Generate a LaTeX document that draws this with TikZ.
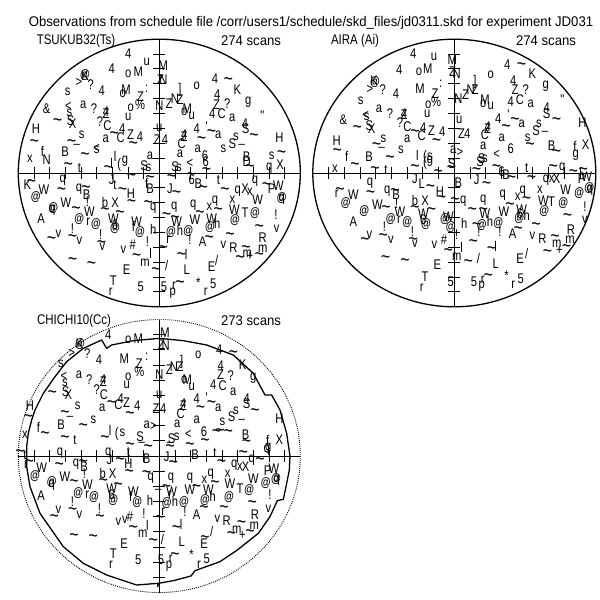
\documentclass[tikz,border=0pt]{standalone}
\usepackage{fontspec}
\newfontfamily\hf[FakeStretch=0.8]{Liberation Sans}
\newfontfamily\hft[FakeStretch=0.94]{Liberation Sans}
\newfontfamily\hfc[FakeStretch=0.82]{Liberation Sans}
\def\tld{{\fontsize{20}{20}\selectfont\textasciitilde}}
\def\sla{/}
\def\atc{@}
\tikzset{
  gl/.style={font=\hf\fontsize{14}{14}\selectfont,inner sep=0pt,text=black},
  lbl/.style={font=\hft\fontsize{14}{14}\selectfont,inner sep=0pt,text=black},
  capl/.style={font=\hfc\fontsize{14}{14}\selectfont,inner sep=0pt,text=black},
  rim/.style={line width=1.3pt,black},
  axisline/.style={line width=0.9pt,black},
  mask/.style={line width=1.3pt,black,line join=round},
  dotring/.style={line width=0.9pt,black,dash pattern=on 0.9pt off 1.1pt}
}
\newcommand\tickset[4]{%
  \draw[axisline] (#1-#3,#2) -- (#1+#3,#2);
  \draw[axisline] (#1,#2-#4) -- (#1,#2+#4);
  \foreach \i in {-8,...,8}{
    \ifnum\i=0\else
    \draw[axisline] ({#1+\i*#3/9},#2-6) -- ({#1+\i*#3/9},#2+6);
    \draw[axisline] (#1-6,{#2+\i*#4/9}) -- (#1+6,{#2+\i*#4/9});
    \fi
  }%
}
\newcommand\glyphs[3]{%
  \begin{scope}[shift={(#1,#2)},x=0.33333pt,y=-0.33333pt]
  \foreach \a/\b/\c in {#3}{\node[gl] at (\a,\b) {\ifx\c\atc{\fontsize{12.5}{12.5}\selectfont\textbf{@}}\else\c\fi};}
  \end{scope}%
}
\begin{document}
\begin{tikzpicture}[x=1pt,y=-1pt]
\useasboundingbox (0,0) rectangle (600,600);
\fill[white] (0,0) rectangle (600,600);
\node[lbl] (title) at (311,23) {Observations from schedule file /corr/users1/schedule/skd\_files/jd0311.skd for experiment JD031};
\node[capl] (st1) at (76,41) {TSUKUB32(Ts)};
\node[lbl] (sc1) at (251,41) {274 scans};
\node[capl] (st2) at (355,41) {AIRA (Ai)};
\node[lbl] (sc2) at (546,41) {274 scans};
\node[capl] (st3) at (74,321) {CHICHI10(Cc)};
\node[lbl] (sc3) at (251,321) {273 scans};
% plot 1
\draw[rim] (159.3,173) ellipse [x radius=141, y radius=133.8];
\tickset{159.3}{173}{141}{133.8}
\glyphs{0}{0}{385/160/4,335/205/4,440/187/u,385/220/o,415/215/M,490/197/M,490/240/N,482/240/Z,685/245/\tld,645/237/4,712/268/K,255/228/K,255/225/@,237/248/>,272/255/?,305/272/4,203/275/s,378/268/M,368/280/o,422/290/Z,440/265/:,420/315/\%,540/270/],590/258/o,478/318/N,507/310/Z,525/295/N,540/298/Z,562/325/M,575/348/u,553/335/o,652/283/4,650/315/Z,682/310/?,637/340/4,665/340/C,697/352/a,745/308/g,787/348/",140/327/\&,205/318/<,208/337/s,250/313/a,282/327/?,318/335/4,318/340/Z,392/322/o,385/350/u,173/367/\tld,212/362/S,218/372/X,300/365/?,322/378/C,367/385/4,392/405/Z,420/410/4,317/417/a,343/408/\tld,362/412/C,478/385/u,472/420/Z,495/420/4,108/385/H,245/405/s,103/430/\tld,127/453/f,195/455/B,215/430/\tld,230/432/\_,290/450/s,290/445/<,400/438/\tld,553/405/4,552/410/Z,545/430/C,593/445/a,605/422/\tld,590/385/4,620/380/',635/400/\tld,655/405/a,670/447/s,697/430/S,708/410/s,725/432/\_,762/412/\tld,735/370/4,737/385/S,838/412/H,255/470/\tld,345/470/l,540/462/a,450/467/a,615/468/6,740/470/B,815/468/s,845/465/\tld,90/475/x,140/478/N}
\glyphs{0}{160}{205/20/\tld,238/25/t,188/60/q,335/10/l,358/15/(,375/5/g,325/30/\tld,432/18/S,445/22/s,395/52/\tld,440/70/f,450/85/B,510/85/J,530/105/\tld,450/60/\tld,515/55/\tld,525/20/S,537/22/s,570/10/<,617/5/6,620/35/\tld,575/50/\tld,595/70/B,575/60/6,610/90/\tld,655/60/t,675/95/\tld,713/95/q,735/85/X,750/95/x,765/65/q,750/25/\tld,740/5/D,808/25/q,800/80/\tld,815/85/P,835/78/W,840/15/X,845/115/@,845/118/q,773/120/W,82/75/K,95/72/\tld,132/90/W,107/112/@,185/95/\tld,237/88/q,260/105/B,258/90/\tld,262/125/!,315/128/b,345/128/X,335/60/J,345/75/t,368/95/\tld,393/102/H,395/132/\tld,445/135/\tld,460/145/q,523/143/q,580/135/q,628/140/x,645/125/q,697/118/x,703/150/W,735/158/T,765/160/@,705/180/@,198/128/W,160/145/@,157/150/q,228/152/\tld,268/155/W,238/178/@,123/175/A,265/185/r,288/192/@,315/155/\tld,340/175/W,360/165/\tld,345/195/6,345/205/@,410/185/W,400/200/f,420/215/@,460/208/h,500/170/\tld,525/180/\tld,530/185/W,513/215/@,540/210/h,565/212/@,585/178/W,600/165/\tld,635/175/W,630/200/@,652/190/h,655/155/\tld,217/205/!,155/243/\tld,175/222/v,218/235/\tld,238/242/v,302/225/!,305/255/\tld,307/260/v,370/268/v,398/255/\#,442/245/!,505/240/r,570/240/!,608/245/A,628/240/\tld,670/255/v,690/230/\tld,700/262/R,738/270/\tld,788/233/R,788/265/m,778/205/\tld,828/165/!,830/205/v,742/280/m,720/300/\tld,750/290/+,778/290/\tld,410/293/\tld,435/308/m,452/280/l,490/270/\tld,545/290/\tld,558/282/l,500/315/\sla,468/335/\tld,560/330/L,650/300/\sla,635/320/E,380/330/E,218/305/\tld,275/317/\tld,340/362/T,332/395/r,422/380/5,492/380/5,540/375/\tld,522/378/r,518/400/p,595/368/*,617/395/r,640/372/5}
% plot 2
\draw[rim] (454.3,173) ellipse [x radius=141.5, y radius=133.8];
\tickset{454.3}{173}{141.5}{133.8}
\glyphs{300}{0}{340/160/4,402/172/u,298/210/4,357/215/o,383/205/M,457/180/M,470/220/N,458/215/Z,622/195/4,665/200/\tld,697/222/K,572/225/o,525/245/],422/250/:,222/243/K,225/245/@,210/268/>,248/270/?,288/282/4,182/303/s,360/265/M,405/280/Z,408/305/\%,385/315/o,382/342/u,475/295/N,497/285/Z,512/270/N,525/270/Z,555/300/M,572/318/u,550/310/o,640/242/4,645/270/Z,677/268/?,737/258/g,632/305/4,660/298/C,692/310/a,787/298/",130/360/\&,197/345/<,200/350/s,237/325/a,270/342/?,312/340/4,312/345/Z,172/390/\tld,208/378/S,215/385/X,300/367/?,322/380/C,370/382/4,395/393/Z,427/395/4,322/415/a,345/402/\tld,365/408/C,478/360/u,485/400/Z,502/400/4,563/380/4,563/385/Z,555/403/C,605/412/a,618/385/\tld,595/355/4,625/345/',645/365/\tld,665/370/a,683/412/s,708/392/S,717/372/s,735/392/\_,770/365/\tld,740/322/4,740/340/S,847/368/H,857/435/X,825/440/f,827/465/g,755/438/B,770/462/\tld,690/440/\tld,110/423/H,250/415/s,112/457/\tld,140/470/f,207/470/B,230/440/\tld,245/442/\_,270/478/\tld,303/450/s,410/428/\tld,352/465/l,375/470/(,390/470/s,550/437/a,632/445/6,590/462/<,545/475/S,555/475/s,460/450/a,480/458/>}
\glyphs{300}{160}{105/25/x,165/20/\tld,225/32/\tld,258/30/t,345/25/\tld,345/55/J,375/10/(,390/5/g,415/40/\tld,365/70/L,455/10/S,455/30/\tld,475/68/B,530/60/J,560/78/\tld,530/35/\tld,540/5/S,590/25/\tld,605/35/6,618/45/B,635/60/\tld,680/25/t,695/60/\tld,738/60/q,770/55/X,755/55/x,787/25/q,760/25/\tld,820/40/\tld,845/55/P,860/50/W,868/85/@,870/90/q,797/90/W,850/35/\tld,720/88/x,668/95/q,653/110/x,608/105/q,550/120/q,517/155/\tld,550/155/\tld,555/160/W,612/155/W,630/140/\tld,680/122/\tld,665/150/W,660/160/6,658/175/@,680/165/h,730/122/W,755/125/T,790/130/@,733/153/@,838/100/@,855/140/!,803/172/\tld,855/180/v,813/210/R,810/240/m,110/100/r,120/95/\tld,160/105/W,137/130/@,212/105/\tld,210/70/q,262/95/q,288/105/B,285/98/\tld,290/130/!,345/122/b,375/122/X,392/85/\tld,420/95/H,425/120/\tld,465/125/\tld,490/125/q,193/153/@,232/135/W,258/150/\tld,300/155/W,160/185/A,272/177/@,297/180/r,322/187/@,345/148/\tld,370/160/W,395/155/\tld,378/193/@,370/180/6,445/170/W,435/178/@,452/200/@,493/190/h,537/215/!,530/200/\tld,545/195/@,570/185/h,595/188/@,600/215/!,253/200/!,250/232/\tld,273/240/v,195/245/\tld,208/225/v,337/215/!,340/245/\tld,345/250/v,403/255/v,432/240/\#,470/225/!,485/262/l,520/250/\tld,638/220/A,655/212/\tld,697/228/v,708/200/\tld,727/235/R,765/235/\tld,770/250/m,575/272/\tld,587/260/l,743/280/\tld,778/270/+,800/265/\tld,680/280/\sla,660/295/E,445/278/\tld,470/290/m,535/295/\sla,505/312/\tld,587/310/L,257/298/\tld,315/307/\tld,412/315/E,375/350/T,365/383/r,452/365/5,522/365/5,565/352/\tld,548/360/r,545/380/p,620/348/*,640/375/r,662/355/5}
% plot 3
\draw[dotring] (159.3,456) ellipse [x radius=141, y radius=136.5];
\tickset{159.3}{456}{141}{136.5}
\begin{scope}[x=0.33333pt,y=-0.33333pt,shift={(0,0)}]
\coordinate (m0) at (80,1368);
\draw[mask] (m0) -- (80,1340) -- (85,1300) -- (95,1260) -- (105,1230) -- (130,1180) -- (165,1130) -- (200,1085) -- (250,1045) -- (305,1020) -- (320,1045) -- (335,1035) -- (400,1022) -- (478,1015) -- (550,1022) -- (620,1035) -- (700,1065) -- (760,1120) -- (795,1185) -- (815,1185) -- (840,1230) -- (860,1300) -- (870,1368) -- (868,1410) -- (858,1460) -- (850,1498) -- (832,1502) -- (810,1550) -- (775,1600) -- (712,1650) -- (660,1685) -- (585,1712) -- (573,1728) -- (520,1742) -- (475,1750) -- (473,1760) -- (473,1750) -- (410,1755) -- (320,1725) -- (250,1690) -- (190,1640) -- (120,1540) -- (90,1460) -- (80,1400) -- cycle;
\end{scope}
\glyphs{0}{310}{325/75/4,238/100/K,240/103/@,385/90/o,415/85/M,495/68/M,497/108/N,485/105/Z,595/135/o,545/155/],440/140/:,262/132/?,297/148/4,373/145/M,418/160/Z,183/160/s,215/130/>,658/120/4,700/135/\tld,728/165/K,760/205/g,662/167/4,662/195/Z,692/198/?,640/225/4,668/228/C,700/245/a,418/185/\%,385/200/o,380/225/u,478/195/N,508/180/Z,522/170/N,540/170/Z,562/208/M,575/230/u,553/210/o,192/198/<,195/218/s,237/195/a,268/208/?,310/210/4,310/215/Z,157/255/\tld,197/245/S,205/255/X,290/240/?,312/255/C,362/265/4,380/278/Z,412/288/4,307/293/a,335/285/\tld,355/285/C,478/255/u,468/295/Z,490/295/4,550/282/4,550/287/Z,542/310/C,590/265/4,620/262/',635/285/\tld,655/292/a,590/328/a,602/300/\tld,667/335/s,695/320/S,708/302/s,725/327/\_,765/307/\tld,740/280/S,740/265/4,838/325/H,838/390/X,803/390/f,805/415/g,737/375/B,740/400/\tld,685/372/\tld,660/368/\tld,90/287/H,233/288/s,85/325/\tld,115/352/f,135/378/\tld,183/345/B,195/315/\tld,210/317/\_,280/330/s,250/352/\tld,390/318/\tld,440/345/a,460/350/>,75/375/x,195/388/\tld,225/390/t,315/390/\tld,330/360/l,350/372/(,367/368/s,420/380/S,425/395/\_,390/410/\tld,385/425/t,445/415/\tld,515/385/S,530/380/s,510/395/\_,510/415/\tld,532/342/a,565/372/<,612/365/6,615/397/\tld,645/430/t,570/410/\tld,585/435/B,650/370/\tld,730/435/\tld,325/430/q,180/430/q,60/430/\tld,75/435/t,800/420/q}
\glyphs{0}{450}{78/45/r,88/40/\tld,125/52/W,105/78/@,178/50/\tld,228/42/q,252/50/B,250/42/\tld,253/72/!,308/70/b,338/70/X,360/35/\tld,385/42/H,388/70/\tld,440/75/\tld,452/85/q,513/85/q,570/85/q,613/90/x,632/72/q,683/72/x,690/100/W,720/115/T,748/120/@,687/140/@,703/45/q,720/50/x,737/50/X,755/30/q,665/40/\tld,760/85/W,797/100/@,780/35/\tld,803/62/P,822/55/W,828/88/@,830/90/q,500/20/J,520/45/\tld,440/25/B,328/30/J,810/135/!,805/175/v,757/165/\tld,765/195/R,763/228/m,195/80/W,155/97/@,155/105/q,222/100/\tld,262/103/W,123/138/A,235/128/@,262/135/r,282/140/@,310/98/\tld,335/115/W,355/110/\tld,340/150/@,335/135/6,400/125/W,392/140/f,412/155/@,450/150/h,475/118/\_,500/115/\tld,515/125/W,510/135/r,500/160/@,525/155/h,552/155/@,570/120/W,590/115/\tld,625/118/W,615/150/@,638/140/h,645/103/\tld,217/155/!,218/185/\tld,238/195/v,163/205/\tld,175/178/v,298/175/!,300/205/\tld,355/215/v,375/208/v,390/200/\#,432/190/!,442/225/l,480/210/\tld,490/185/r,555/185/!,530/240/\tld,543/222/l,590/195/A,612/180/\tld,652/207/v,672/180/\tld,680/212/R,635/245/\sla,615/270/\tld,612/280/E,710/240/m,725/225/\tld,695/258/\tld,727/255/+,750/250/\tld,400/240/\tld,428/250/m,487/268/\sla,460/278/\tld,545/275/L,222/262/\tld,280/265/\tld,372/280/E,340/312/T,333/345/r,415/328/5,483/328/5,525/320/\tld,512/325/r,507/348/p,575/315/*,597/345/r,620/325/5}
\end{tikzpicture}
\end{document}
